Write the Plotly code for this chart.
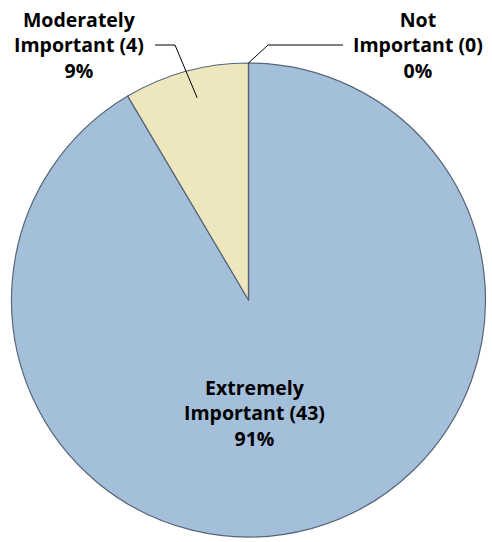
import math
import plotly.graph_objects as go

# Survey responses
labels = ["Extremely Important", "Moderately Important", "Not Important"]
counts = [43, 4, 0]
colors = ["#A4BFD9", "#EEE7BE", "#D9D9D9"]

W, H = 492, 542
cx, cy, r = 248.5, 300.0, 237.0  # pie centre / radius in pixels (from top-left)

total = sum(counts)
pcts = [round(100 * c / total) for c in counts]
texts = [f"<b>{lab.replace(' ', '<br>', 1)} ({c})<br>{p}%</b>" for lab, c, p in zip(labels, counts, pcts)]

fig = go.Figure(go.Pie(
    labels=labels,
    values=counts,
    sort=False,
    direction="clockwise",
    rotation=0,
    marker=dict(colors=colors, line=dict(color="#56667A", width=1.2)),
    textinfo="none",
    hoverinfo="label+value+percent",
    showlegend=False,
    domain=dict(x=[(cx - r) / W, (cx + r) / W],
                y=[(H - cy - r) / H, (H - cy + r) / H]),
))


def px(x, y):
    return x / W, 1 - y / H


def polar(frac_angle, rad):
    a = 2 * math.pi * frac_angle
    return cx + rad * math.sin(a), cy - rad * math.cos(a)


font = dict(family="Open Sans", size=19.5, color="#000000")

# cumulative angle fractions for each slice (clockwise from 12 o'clock)
starts = []
acc = 0
for c in counts:
    starts.append(acc / total)
    acc += c
mids = [s + c / total / 2 for s, c in zip(starts, counts)]

annotations = []
shapes = []


def label(x, y, text):
    lx, ly = px(x, y)
    annotations.append(dict(x=lx, y=ly, xref="paper", yref="paper", text=text,
                            showarrow=False, font=font, align="center",
                            xanchor="center", yanchor="middle"))


def leader(pts):
    path = "M " + " L ".join(f"{px(x, y)[0]},{px(x, y)[1]}" for x, y in pts)
    shapes.append(dict(type="path", xref="paper", yref="paper", path=path,
                       line=dict(color="#000000", width=1)))


# Extremely Important: inside label
label(254, 413, texts[0])

# Moderately Important: outside left, with leader line into the wedge
mx, my = polar(mids[1] + 0.003, r * 0.88)
label(79, 45, texts[1])
leader([(155, 45), (175, 45), (mx, my)])

# Not Important: outside right, leader from the slice edge
nx, ny = polar(starts[2], r)
label(418, 45, texts[2])
leader([(nx, ny), (268, 45), (343, 45)])

fig.update_layout(
    width=W, height=H,
    margin=dict(l=0, r=0, t=0, b=0),
    paper_bgcolor="white", plot_bgcolor="white",
    annotations=annotations, shapes=shapes,
)

fig.write_html("out.html")
